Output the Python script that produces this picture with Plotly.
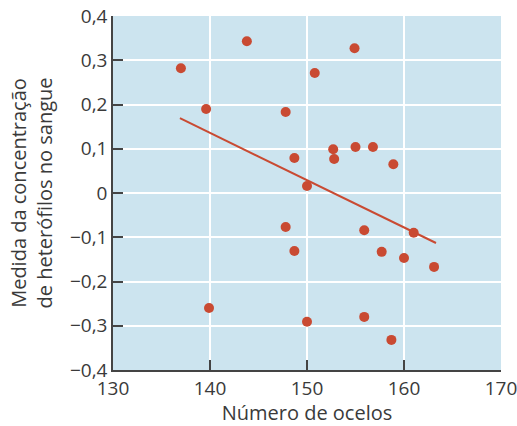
import plotly.graph_objects as go

ocelos = [137.0, 139.6, 143.8, 147.8, 148.7, 150.0, 150.8, 152.7, 152.8, 154.9, 155.0, 156.8,
          158.9, 147.8, 148.7, 155.9, 157.7, 160.0, 161.0, 163.1, 139.9, 150.0, 155.9, 158.7]
heterofilos = [0.282, 0.190, 0.343, 0.183, 0.079, 0.016, 0.271, 0.099, 0.077, 0.327, 0.104, 0.104,
               0.065, -0.077, -0.131, -0.084, -0.133, -0.147, -0.090, -0.167, -0.260, -0.291, -0.280, -0.332]
trend_x = [136.9, 163.3]
trend_y = [0.169, -0.113]

x_ticks = [130, 140, 150, 160, 170]
y_ticks = [-0.4, -0.3, -0.2, -0.1, 0, 0.1, 0.2, 0.3, 0.4]
y_labels = ["−0,4", "−0,3", "−0,2", "−0,1", "0", "0,1", "0,2", "0,3", "0,4"]

red = "#c94a32"
fig = go.Figure()
fig.add_trace(go.Scatter(x=trend_x, y=trend_y, mode="lines",
                         line=dict(color=red, width=2), showlegend=False, hoverinfo="skip"))
fig.add_trace(go.Scatter(x=ocelos, y=heterofilos, mode="markers",
                         marker=dict(color=red, size=10), showlegend=False))

font = "'Open Sans', sans-serif"
fig.update_layout(
    width=517, height=426,
    margin=dict(l=113, r=16, t=16, b=56),
    paper_bgcolor="white", plot_bgcolor="#cce4ef",
    font=dict(family=font, color="#3a3a3a", size=19),
    xaxis=dict(range=[130, 170], tickvals=x_ticks, ticktext=[str(v) for v in x_ticks],
               showgrid=True, gridcolor="white", gridwidth=1.5, zeroline=False,
               showline=True, linecolor="#444", linewidth=1.5,
               ticks="inside", ticklen=10, tickcolor="#444", tickwidth=1.5,
               automargin=False, ticklabeloverflow="allow",
               title=dict(text="Número de ocelos", font=dict(size=20), standoff=2),
               tickfont=dict(size=19)),
    yaxis=dict(range=[-0.4, 0.4], tickvals=y_ticks, ticktext=y_labels,
               showgrid=True, gridcolor="white", gridwidth=1.5, zeroline=False,
               showline=True, linecolor="#444", linewidth=1.5,
               ticks="inside", ticklen=10, tickcolor="#444", tickwidth=1.5,
               automargin=False, ticklabeloverflow="allow",
               title=dict(text="Medida da concentração<br>de heterófilos no sangue",
                          font=dict(size=20), standoff=12),
               tickfont=dict(size=19)),
)
fig.write_html("out.html", config={"displayModeBar": False},
               post_script="document.body.style.margin='0';document.documentElement.style.overflow='hidden';")
